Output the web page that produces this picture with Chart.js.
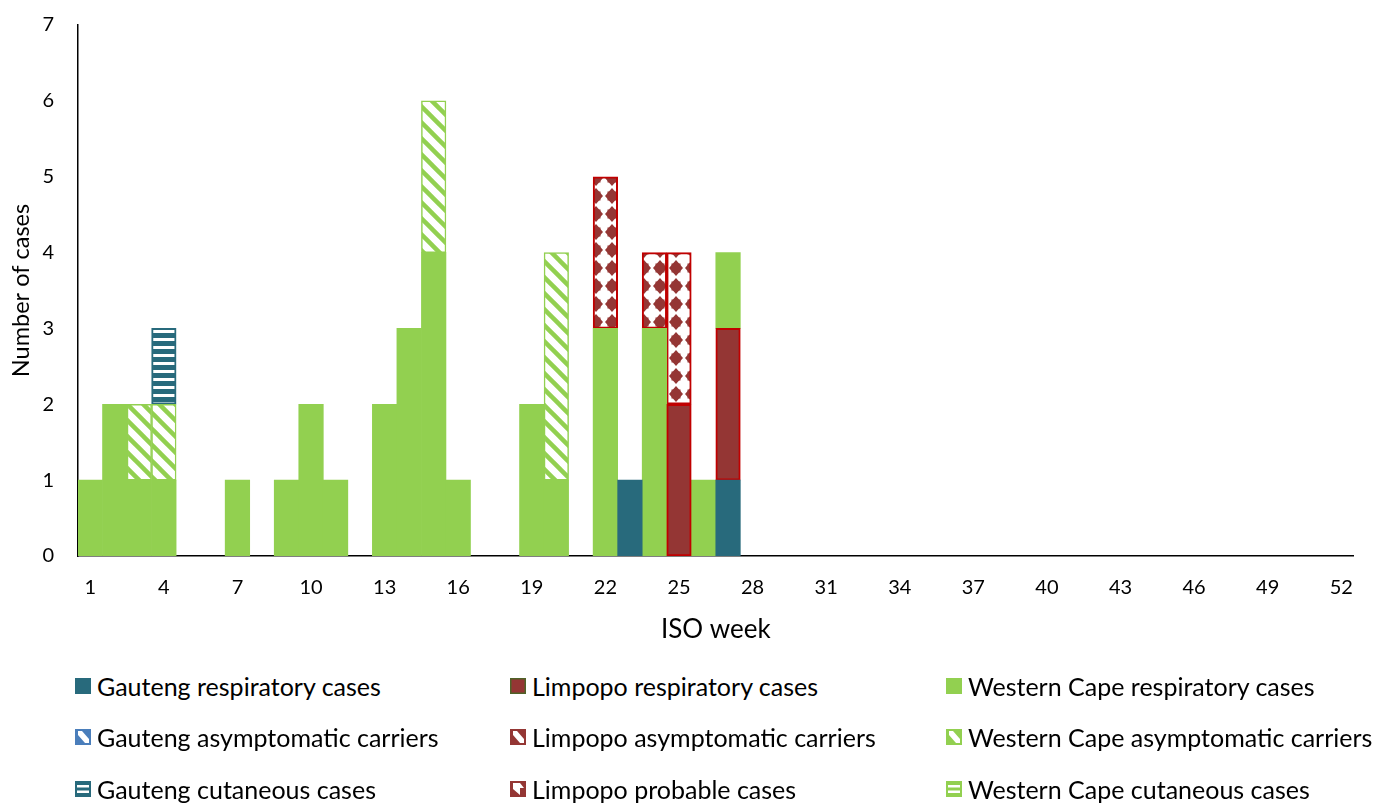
<!DOCTYPE html>
<html>
<head>
<meta charset="utf-8">
<script src="https://cdn.jsdelivr.net/npm/chart.js@4.4.0/dist/chart.umd.min.js"></script>
<style>
  html, body { margin: 0; padding: 0; background: #fff; }
  body { width: 1373px; height: 803px; position: relative; overflow: hidden; font-family: Lato, sans-serif; }
  #wrap { position: absolute; left: 0; top: -11px; width: 1373px; height: 661px; }
  #legend { position: absolute; left: 75px; top: 660px; display: grid; grid-template-columns: 435px 436px 400px; grid-auto-rows: 51.5px; }
  .item { display: flex; align-items: center; font-size: 25px; color: #000; white-space: nowrap; }
  .item canvas { margin-right: 6px; }
</style>
</head>
<body>
<div id="wrap"><canvas id="casesChart" width="1373" height="661"></canvas></div>
<div id="legend"></div>
<script>
const weeks = ['1','2','3','4','5','6','7','8','9','10','11','12','13','14','15','16','17','18','19','20',
  '21','22','23','24','25','26','27','28','29','30','31','32','33','34','35','36','37','38','39','40',
  '41','42','43','44','45','46','47','48','49','50','51','52'];

// weekly counts, weeks 1..52
const gautengResp    = [0,0,0,0,0,0,0,0,0,0,0,0,0,0,0,0,0,0,0,0,0,0,1,0,0,0,1,0,0,0,0,0,0,0,0,0,0,0,0,0,0,0,0,0,0,0,0,0,0,0,0,0];
const limpopoResp    = [0,0,0,0,0,0,0,0,0,0,0,0,0,0,0,0,0,0,0,0,0,0,0,0,2,0,2,0,0,0,0,0,0,0,0,0,0,0,0,0,0,0,0,0,0,0,0,0,0,0,0,0];
const wcapeResp      = [1,2,1,1,0,0,1,0,1,2,1,0,2,3,4,1,0,0,2,1,0,3,0,3,0,1,1,0,0,0,0,0,0,0,0,0,0,0,0,0,0,0,0,0,0,0,0,0,0,0,0,0];
const gautengAsym    = [0,0,0,0,0,0,0,0,0,0,0,0,0,0,0,0,0,0,0,0,0,0,0,0,0,0,0,0,0,0,0,0,0,0,0,0,0,0,0,0,0,0,0,0,0,0,0,0,0,0,0,0];
const limpopoAsym    = [0,0,0,0,0,0,0,0,0,0,0,0,0,0,0,0,0,0,0,0,0,0,0,0,0,0,0,0,0,0,0,0,0,0,0,0,0,0,0,0,0,0,0,0,0,0,0,0,0,0,0,0];
const wcapeAsym      = [0,0,1,1,0,0,0,0,0,0,0,0,0,0,2,0,0,0,0,3,0,0,0,0,0,0,0,0,0,0,0,0,0,0,0,0,0,0,0,0,0,0,0,0,0,0,0,0,0,0,0,0];
const gautengCut     = [0,0,0,1,0,0,0,0,0,0,0,0,0,0,0,0,0,0,0,0,0,0,0,0,0,0,0,0,0,0,0,0,0,0,0,0,0,0,0,0,0,0,0,0,0,0,0,0,0,0,0,0];
const limpopoProb    = [0,0,0,0,0,0,0,0,0,0,0,0,0,0,0,0,0,0,0,0,0,2,0,1,2,0,0,0,0,0,0,0,0,0,0,0,0,0,0,0,0,0,0,0,0,0,0,0,0,0,0,0];
const wcapeCut       = [0,0,0,0,0,0,0,0,0,0,0,0,0,0,0,0,0,0,0,0,0,0,0,0,0,0,0,0,0,0,0,0,0,0,0,0,0,0,0,0,0,0,0,0,0,0,0,0,0,0,0,0];

const seriesNames = [
  'Gauteng respiratory cases', 'Limpopo respiratory cases', 'Western Cape respiratory cases',
  'Gauteng asymptomatic carriers', 'Limpopo asymptomatic carriers', 'Western Cape asymptomatic carriers',
  'Gauteng cutaneous cases', 'Limpopo probable cases', 'Western Cape cutaneous cases'
];

const TEAL = '#286A7C';
const MAROON = '#943634';
const RED = '#C00000';
const GREEN = '#92D050';
const BLUE = '#4A7EBB';
const LRED = '#C0504D';

Chart.defaults.font.family = 'Lato, sans-serif';
Chart.defaults.color = '#000';

const canvas = document.getElementById('casesChart');
const mainCtx = canvas.getContext('2d');

function makePattern(kind, color) {
  const c = document.createElement('canvas');
  const g = c.getContext('2d');
  if (kind === 'diag') {
    c.width = 16; c.height = 16;
    g.fillStyle = '#fff'; g.fillRect(0, 0, 16, 16);
    g.strokeStyle = color; g.lineWidth = 4.5;
    for (const k of [-16, 0, 16]) {
      g.beginPath(); g.moveTo(k - 4, -4); g.lineTo(k + 20, 20); g.stroke();
    }
  } else if (kind === 'horiz') {
    c.width = 8; c.height = 8;
    g.fillStyle = color; g.fillRect(0, 0, 8, 8);
    g.fillStyle = '#fff'; g.fillRect(0, 5, 8, 3);
  } else if (kind === 'diamond') {
    c.width = 16; c.height = 18;
    g.fillStyle = '#fff'; g.fillRect(0, 0, 16, 18);
    g.fillStyle = color;
    g.beginPath();
    g.moveTo(8, 1); g.lineTo(15, 9); g.lineTo(8, 17); g.lineTo(1, 9);
    g.closePath(); g.fill();
    g.fillRect(3.5, 4.5, 9, 9);
  }
  const p = mainCtx.createPattern(c, 'repeat');
  if (kind === 'diamond') p.setTransform(new DOMMatrix().translate(12, 0));
  return p;
}

const styles = [
  { bg: TEAL, border: TEAL, bw: 0, sw: 'solid', swColor: TEAL },
  { bg: MAROON, border: RED, bw: 2, sw: 'solid', swColor: MAROON, swBorder: '#4F6228' },
  { bg: GREEN, border: GREEN, bw: 0, sw: 'solid', swColor: GREEN },
  { bg: makePattern('diag', BLUE), border: BLUE, bw: 1.5, sw: 'diag', swColor: BLUE },
  { bg: makePattern('diag', LRED), border: LRED, bw: 1.5, sw: 'diag', swColor: MAROON },
  { bg: makePattern('diag', GREEN), border: GREEN, bw: 1.5, sw: 'diag', swColor: GREEN },
  { bg: makePattern('horiz', TEAL), border: TEAL, bw: 2, sw: 'horiz', swColor: TEAL },
  { bg: makePattern('diamond', MAROON), border: RED, bw: 2, sw: 'diamond', swColor: MAROON },
  { bg: makePattern('horiz', GREEN), border: GREEN, bw: 2, sw: 'horiz', swColor: GREEN }
];

const seriesData = [gautengResp, limpopoResp, wcapeResp, gautengAsym, limpopoAsym, wcapeAsym, gautengCut, limpopoProb, wcapeCut];

// empty weeks become null so no hairline bars are drawn
const datasets = seriesData.map((vals, i) => ({
  label: seriesNames[i],
  data: vals.map(v => (v ? v : null)),
  backgroundColor: styles[i].bg,
  borderColor: styles[i].border,
  borderWidth: styles[i].bw,
  borderSkipped: false,
  barPercentage: 1,
  categoryPercentage: 1
}));

new Chart(mainCtx, {
  type: 'bar',
  data: { labels: weeks, datasets: datasets },
  options: {
    responsive: false,
    animation: false,
    layout: { padding: { top: 13, right: 10, left: 0, bottom: 0 } },
    plugins: { legend: { display: false }, tooltip: { enabled: false } },
    scales: {
      x: {
        stacked: true,
        grid: { display: false, drawTicks: false },
        border: { color: '#000', width: 1.5 },
        ticks: {
          autoSkip: false, maxRotation: 0, padding: 20, font: { size: 20 },
          callback: (v, i) => (i % 3 === 0 ? weeks[i] : '')
        },
        title: { display: true, text: 'ISO week', font: { size: 26 }, padding: { top: 0, bottom: 5 } },
        afterFit: s => { s.height = 94; }
      },
      y: {
        stacked: true,
        min: 0, max: 7,
        grid: { display: false, drawTicks: false },
        border: { color: '#000', width: 1.5 },
        ticks: { stepSize: 1, padding: 24, font: { size: 20 } },
        title: { display: true, text: 'Number of cases', font: { size: 23.5 }, padding: { top: 7, bottom: 0 } },
        afterFit: s => { s.width = 78; }
      }
    }
  }
});

// legend, 3 columns like the original
function drawSwatch(c, st) {
  const g = c.getContext('2d');
  const n = 16;
  g.fillStyle = '#fff'; g.fillRect(0, 0, n, n);
  if (st.sw === 'solid') {
    g.fillStyle = st.swColor; g.fillRect(0, 0, n, n);
    if (st.swBorder) { g.strokeStyle = st.swBorder; g.lineWidth = 1.5; g.strokeRect(0.75, 0.75, n - 1.5, n - 1.5); }
  } else if (st.sw === 'diag') {
    g.fillStyle = st.swColor; g.fillRect(0, 0, n, n);
    g.fillStyle = '#fff';
    g.beginPath(); g.moveTo(3, 2); g.lineTo(7, 2); g.lineTo(14, 10); g.lineTo(14, 14); g.lineTo(10, 14); g.lineTo(3, 6); g.closePath(); g.fill();
  } else if (st.sw === 'horiz') {
    g.fillStyle = st.swColor; g.fillRect(0, 0, n, n);
    g.fillStyle = '#fff'; g.fillRect(2, 4, n - 4, 2.5); g.fillRect(2, 9.5, n - 4, 2.5);
  } else if (st.sw === 'diamond') {
    g.fillStyle = st.swColor; g.fillRect(0, 0, n, n);
    g.fillStyle = '#fff';
    g.beginPath(); g.moveTo(3, 2); g.lineTo(10, 2); g.lineTo(14, 7); g.lineTo(10, 7); g.lineTo(10, 14); g.lineTo(3, 8); g.closePath(); g.fill();
  }
}

const legendEl = document.getElementById('legend');
seriesNames.forEach((name, i) => {
  const item = document.createElement('div');
  item.className = 'item';
  const sw = document.createElement('canvas');
  sw.width = 16; sw.height = 16;
  drawSwatch(sw, styles[i]);
  item.appendChild(sw);
  item.appendChild(document.createTextNode(name));
  legendEl.appendChild(item);
});
</script>
</body>
</html>
